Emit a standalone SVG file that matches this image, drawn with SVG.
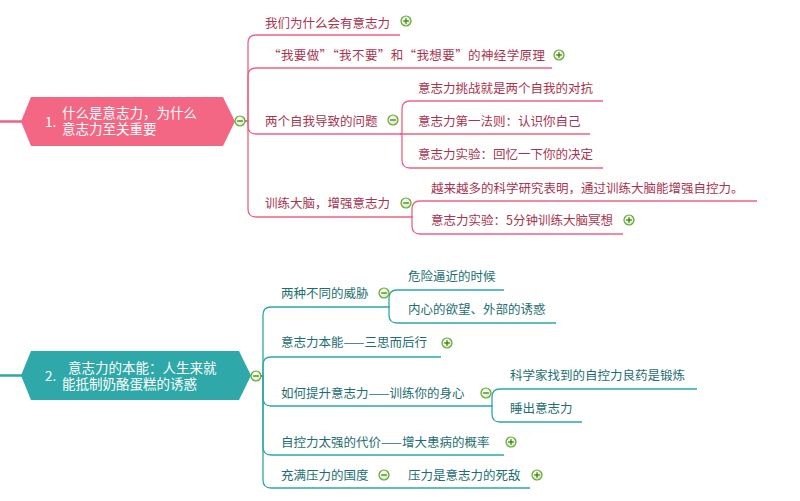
<svg xmlns="http://www.w3.org/2000/svg" width="800" height="501" viewBox="0 0 800 501">
<defs>
<radialGradient id="ig" cx="0.4" cy="0.35" r="0.7">
<stop offset="0" stop-color="#ffffff"/>
<stop offset="1" stop-color="#cfe8b8"/>
</radialGradient>
<g id="minus"><circle r="5" fill="url(#ig)" stroke="#62A82C" stroke-width="1.2"/><line x1="-2.8" y1="0" x2="2.8" y2="0" stroke="#3E7A1C" stroke-width="1.3"/></g>
<g id="plus"><circle r="5" fill="url(#ig)" stroke="#62A82C" stroke-width="1.2"/><line x1="-2.8" y1="0" x2="2.8" y2="0" stroke="#3E7A1C" stroke-width="1.3"/><line x1="0" y1="-2.8" x2="0" y2="2.8" stroke="#3E7A1C" stroke-width="1.3"/></g>
</defs>
<style>
text{font-family:"Noto Sans CJK SC","Liberation Sans",sans-serif;font-size:12.5px}
.pt{fill:#A8344F}
.tt{fill:#1E6E6F}
.mt{fill:#ffffff;font-size:13.5px}
.pl{fill:none;stroke:#EE6282;stroke-width:1.3}
.tl{fill:none;stroke:#2EA8A8;stroke-width:1.3}
</style>
<rect width="800" height="501" fill="#ffffff"/>

<g id="connectors">
<line x1="0" y1="121.5" x2="22" y2="121.5" stroke="#EE6282" stroke-width="2.5"/>
<path class="pl" d="M245,121 H248 V43 Q248,35 256,35 H400"/>
<path class="pl" d="M245,121 H248 V76 Q248,68 256,68 H552"/>
<path class="pl" d="M245,121 H248 V126 Q248,134 256,134 H400"/>
<path class="pl" d="M245,121 H248 V209 Q248,217 256,217 H411"/>
<path class="pl" d="M400,134 H402 V109 Q402,101 410,101 H603"/>
<path class="pl" d="M400,134 H590"/>
<path class="pl" d="M400,134 H402 V160 Q402,168 410,168 H603"/>
<path class="pl" d="M411,217 H412 V209 Q412,201 420,201 H757"/>
<path class="pl" d="M411,217 H412 V226 Q412,234 420,234 H623"/>

<line x1="0" y1="375.5" x2="22" y2="375.5" stroke="#2EA8A8" stroke-width="2.5"/>
<path class="tl" d="M261,376 H263 V315 Q263,307 271,307 H388"/>
<path class="tl" d="M261,376 H263 V365 Q263,357 271,357 H441"/>
<path class="tl" d="M261,376 H263 V398 Q263,406 271,406 H491"/>
<path class="tl" d="M261,376 H263 V447 Q263,455 271,455 H504"/>
<path class="tl" d="M261,376 H263 V480 Q263,488 271,488 H530"/>
<path class="tl" d="M388,307 H389 V298 Q389,290 397,290 H504"/>
<path class="tl" d="M388,307 H389 V315 Q389,323 397,323 H556"/>
<path class="tl" d="M491,406 H492 V397 Q492,389 500,389 H697"/>
<path class="tl" d="M491,406 H492 V414 Q492,422 500,422 H582"/>
</g>

<g id="main1">
<polygon points="21,121.5 31,97 223,97 235,121.5 223,146 31,146" fill="#F46784"/>
<text class="mt" x="45" y="127">1.</text>
<text class="mt" x="62" y="118">什么是意志力，为什么</text>
<text class="mt" x="62" y="133.5">意志力至关重要</text>
<use href="#minus" x="240" y="121"/>
</g>
<g id="n1-1"><text class="pt" x="265" y="27.5">我们为什么会有意志力</text><use href="#plus" x="406" y="21"/></g>
<g id="n1-2"><text class="pt" x="268" y="59.5" textLength="277" lengthAdjust="spacing">“我要做”“我不要”和“我想要”的神经学原理</text><use href="#plus" x="559" y="55"/></g>
<g id="n1-3"><text class="pt" x="265" y="125.5">两个自我导致的问题</text><use href="#minus" x="393" y="120"/></g>
<g id="n1-3-1"><text class="pt" x="418" y="92.5">意志力挑战就是两个自我的对抗</text></g>
<g id="n1-3-2"><text class="pt" x="418" y="125.5">意志力第一法则：认识你自己</text></g>
<g id="n1-3-3"><text class="pt" x="418" y="158.5">意志力实验：回忆一下你的决定</text></g>
<g id="n1-4"><text class="pt" x="265" y="207.5">训练大脑，增强意志力</text><use href="#minus" x="406" y="203"/></g>
<g id="n1-4-1"><text class="pt" x="431" y="192.5">越来越多的科学研究表明，通过训练大脑能增强自控力。</text></g>
<g id="n1-4-2"><text class="pt" x="431" y="224.5">意志力实验：5分钟训练大脑冥想</text><use href="#plus" x="629" y="220"/></g>

<g id="main2">
<polygon points="21,375.5 31,351 239,351 251,375.5 239,400 31,400" fill="#2EA8A8"/>
<text class="mt" x="45" y="381">2.</text>
<text class="mt" x="68" y="372.5">意志力的本能：人生来就</text>
<text class="mt" x="62" y="388.5">能抵制奶酪蛋糕的诱惑</text>
<use href="#minus" x="256" y="376"/>
</g>
<g id="n2-1"><text class="tt" x="281" y="297.5">两种不同的威胁</text><use href="#minus" x="384" y="293"/></g>
<g id="n2-1-1"><text class="tt" x="408" y="280.5">危险逼近的时候</text></g>
<g id="n2-1-2"><text class="tt" x="408" y="313.5">内心的欲望、外部的诱惑</text></g>
<g id="n2-2"><text class="tt" x="281" y="346.5">意志力本能——三思而后行</text><use href="#plus" x="447" y="343"/></g>
<g id="n2-3"><text class="tt" x="281" y="397.5">如何提升意志力——训练你的身心</text><use href="#minus" x="486" y="393"/></g>
<g id="n2-3-1"><text class="tt" x="510" y="379.5">科学家找到的自控力良药是锻炼</text></g>
<g id="n2-3-2"><text class="tt" x="510" y="412.5">睡出意志力</text></g>
<g id="n2-4"><text class="tt" x="281" y="446.5">自控力太强的代价——增大患病的概率</text><use href="#plus" x="511" y="442"/></g>
<g id="n2-5"><text class="tt" x="281" y="479.5">充满压力的国度</text><use href="#minus" x="384" y="475"/></g>
<g id="n2-5-1"><text class="tt" x="408" y="479.5">压力是意志力的死敌</text><use href="#plus" x="537" y="475"/></g>
</svg>
